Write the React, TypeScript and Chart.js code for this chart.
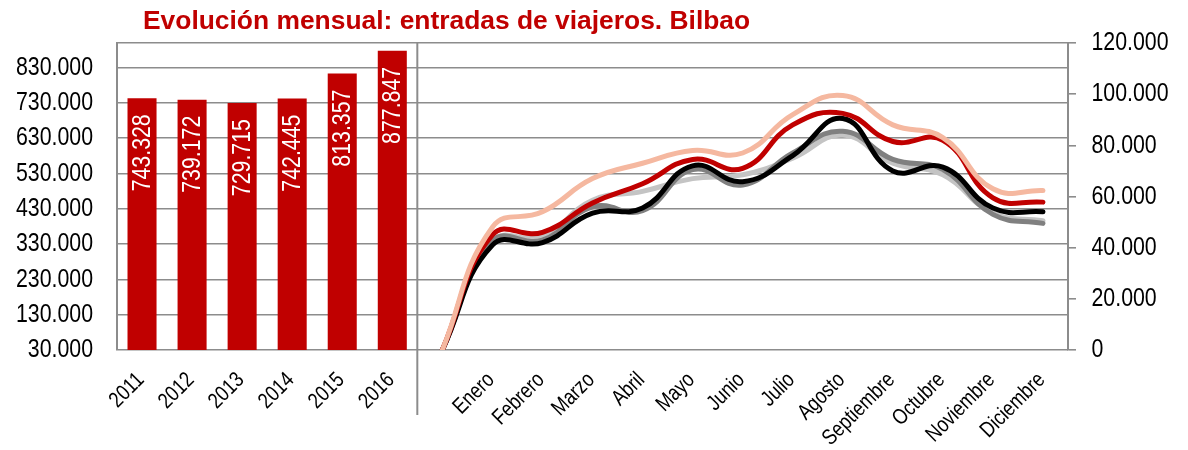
import React, { useEffect, useRef } from 'react';
import { Chart, registerables } from 'chart.js';

Chart.register(...registerables);

const TITLE = 'Evolución mensual: entradas de viajeros. Bilbao';
const years = ['2011', '2012', '2013', '2014', '2015', '2016'];
const months = ['Enero', 'Febrero', 'Marzo', 'Abril', 'Mayo', 'Junio', 'Julio', 'Agosto', 'Septiembre', 'Octubre', 'Noviembre', 'Diciembre'];
const yearTotals = [743328, 739172, 729715, 742445, 813357, 877847];

const startValue = 0;
const series2012 = [42500, 44500, 58500, 62000, 67000, 68500, 75000, 84000, 73000, 68500, 53500, 50500];
const series2013 = [42500, 43000, 56000, 54500, 70500, 64500, 77000, 85500, 74500, 70500, 53000, 49500];
const series2014 = [41000, 42000, 53500, 55500, 72000, 65800, 76000, 90500, 70000, 71500, 55500, 54000];
const series2015 = [45000, 46000, 57500, 65000, 74500, 71000, 88000, 92500, 81500, 82000, 59500, 57800];
const series2016 = [48000, 54000, 67000, 73000, 78000, 77000, 92000, 99500, 88000, 83000, 63000, 62300];

const leftTicks = [30000, 130000, 230000, 330000, 430000, 530000, 630000, 730000, 830000];
const leftMin = 30000;
const leftMax = 900000;
const rightTicks = [0, 20000, 40000, 60000, 80000, 100000, 120000];
const rightMin = 0;
const rightMax = 120000;

const FAMILY = "'Liberation Sans', Arial, sans-serif";
const NARROW_X = 0.82;
const GRID = '#8c8c8c';
const RED = '#c00000';

const fmt = (v: number) => String(Math.round(v)).replace(/\B(?=(\d{3})+(?!\d))/g, '.');

const labels = [...years, '', ...months];
const pad = (n: number) => Array(n).fill(null);
const lineData = (vals: number[]) => [...pad(years.length), startValue, ...vals];

// draw text with a condensed (Arial Narrow-like) look
function narrowText(ctx: CanvasRenderingContext2D, text: string, x: number, y: number, angle: number, size: number, align: CanvasTextAlign, baseline: CanvasTextBaseline, color: string) {
  ctx.save();
  ctx.translate(x, y);
  ctx.rotate(angle);
  ctx.scale(NARROW_X, 1);
  ctx.font = `${size}px ${FAMILY}`;
  ctx.fillStyle = color;
  ctx.textAlign = align;
  ctx.textBaseline = baseline;
  ctx.fillText(text, 0, 0);
  ctx.restore();
}

const titlePlugin = {
  id: 'customTitle',
  afterDraw(chart: any) {
    const { ctx } = chart;
    ctx.save();
    ctx.fillStyle = RED;
    ctx.font = `bold 26.4px ${FAMILY}`;
    ctx.textAlign = 'left';
    ctx.textBaseline = 'alphabetic';
    ctx.fillText(TITLE, 143, 28.5);
    ctx.restore();
  },
};

const axisLabelPlugin = {
  id: 'axisLabels',
  afterDraw(chart: any) {
    const { ctx, chartArea } = chart;
    const ys = chart.scales.y;
    const y2 = chart.scales.y2;
    const xs = chart.scales.x;
    leftTicks.forEach((v) => {
      narrowText(ctx, fmt(v), chartArea.left - 24, ys.getPixelForValue(v), 0, 26, 'right', 'middle', '#000');
    });
    rightTicks.forEach((v) => {
      narrowText(ctx, fmt(v), chartArea.right + 23.5, y2.getPixelForValue(v), 0, 26, 'left', 'middle', '#000');
    });
    labels.forEach((lab, i) => {
      if (!lab) return;
      const x = xs.getPixelForTick(i);
      narrowText(ctx, lab, x + 3, chartArea.bottom + 31, -Math.PI / 4, 22, 'right', 'alphabetic', '#000');
    });
  },
};

const barLabelPlugin = {
  id: 'barLabels',
  afterDatasetsDraw(chart: any) {
    const { ctx } = chart;
    const meta = chart.getDatasetMeta(0);
    meta.data.forEach((el: any, i: number) => {
      const v = chart.data.datasets[0].data[i];
      if (v == null) return;
      narrowText(ctx, fmt(v), el.x + 1, el.y + 16, -Math.PI / 2, 26, 'right', 'middle', '#ffffff');
    });
  },
};

const separatorPlugin = {
  id: 'separator',
  afterDraw(chart: any) {
    const { ctx, chartArea } = chart;
    const xs = chart.scales.x;
    const x = (xs.getPixelForValue(years.length - 1) + xs.getPixelForValue(years.length)) / 2;
    ctx.save();
    ctx.strokeStyle = GRID;
    ctx.lineWidth = 2;
    ctx.beginPath();
    ctx.moveTo(x, chartArea.top);
    ctx.lineTo(x, 415);
    ctx.stroke();
    ctx.restore();
  },
};

export default function App() {
  const ref = useRef<HTMLCanvasElement | null>(null);

  useEffect(() => {
    if (!ref.current) return;
    const lineCommon = {
      type: 'line' as const,
      yAxisID: 'y2',
      borderWidth: 5,
      tension: 0.45,
      pointRadius: 0,
      pointHoverRadius: 0,
      borderCapStyle: 'round' as const,
      borderJoinStyle: 'round' as const,
      fill: false,
      spanGaps: false,
    };
    const chart = new Chart(ref.current, {
      type: 'bar',
      data: {
        labels,
        datasets: [
          {
            type: 'bar',
            label: 'Total anual',
            data: [...yearTotals, ...pad(months.length + 1)],
            backgroundColor: RED,
            borderWidth: 0,
            yAxisID: 'y',
            barPercentage: 0.58,
            categoryPercentage: 1,
          },
          { ...lineCommon, label: '2016', data: lineData(series2016), borderColor: '#f5b8a0' },
          { ...lineCommon, label: '2015', data: lineData(series2015), borderColor: RED },
          { ...lineCommon, label: '2014', data: lineData(series2014), borderColor: '#000000' },
          { ...lineCommon, label: '2013', data: lineData(series2013), borderColor: '#808080' },
          { ...lineCommon, label: '2012', data: lineData(series2012), borderColor: '#c4c4c4' },
        ] as any,
      },
      options: {
        animation: false,
        responsive: false,
        maintainAspectRatio: false,
        layout: { padding: { top: 43, left: 0, right: 0, bottom: 0 } },
        plugins: {
          legend: { display: false },
          title: { display: false },
          tooltip: { enabled: false },
        },
        scales: {
          x: {
            type: 'category',
            offset: true,
            grid: { display: false, drawTicks: false },
            border: { display: false },
            ticks: { display: false, autoSkip: false },
            afterFit: (s: any) => {
              s.height = 100;
            },
          },
          y: {
            type: 'linear',
            position: 'left',
            min: leftMin,
            max: leftMax,
            afterBuildTicks: (s: any) => {
              s.ticks = [...leftTicks, leftMax].map((value) => ({ value }));
            },
            grid: { color: GRID, lineWidth: 1.6, drawTicks: false },
            border: { display: true, color: GRID, width: 2 },
            ticks: { display: false, autoSkip: false },
            afterFit: (s: any) => {
              s.width = 117;
            },
          },
          y2: {
            type: 'linear',
            position: 'right',
            min: rightMin,
            max: rightMax,
            afterBuildTicks: (s: any) => {
              s.ticks = rightTicks.map((value) => ({ value }));
            },
            grid: { drawOnChartArea: false, drawTicks: true, tickLength: 8, color: GRID, lineWidth: 1.6 },
            border: { display: true, color: GRID, width: 2 },
            ticks: { display: false, autoSkip: false },
            afterFit: (s: any) => {
              s.width = 120;
            },
          },
        },
      } as any,
      plugins: [titlePlugin, barLabelPlugin, separatorPlugin, axisLabelPlugin],
    });
    return () => chart.destroy();
  }, []);

  return (
    <div style={{ position: 'fixed', left: 0, top: 0, width: 1188, height: 450, background: '#fff' }}>
      <canvas ref={ref} width={1188} height={450} style={{ width: 1188, height: 450 }} />
    </div>
  );
}
